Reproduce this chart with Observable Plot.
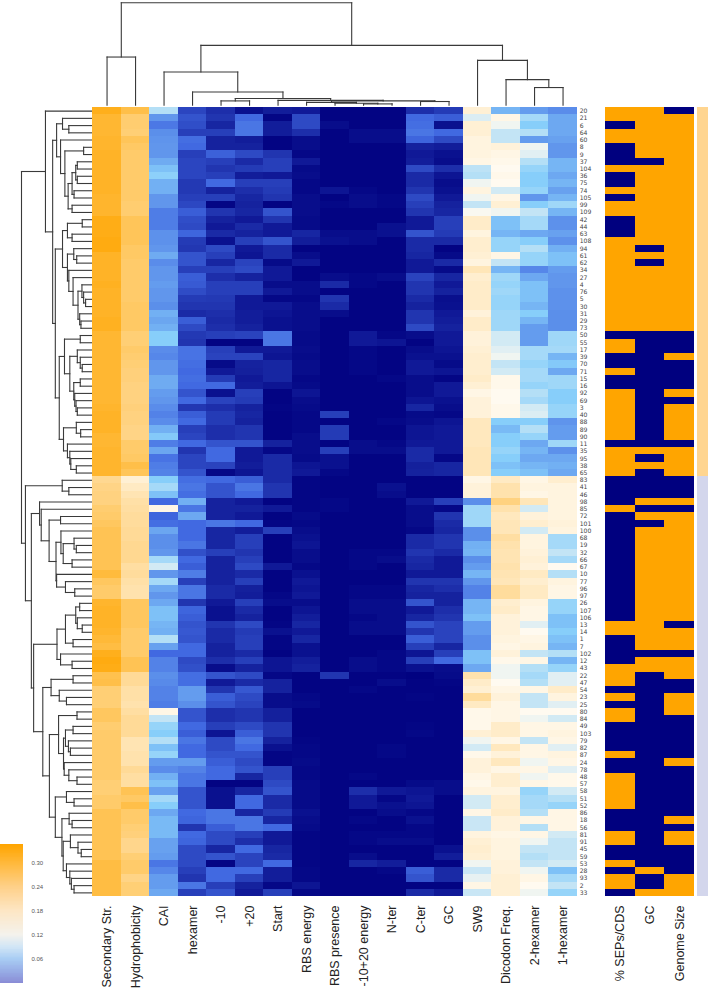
<!DOCTYPE html>
<html><head><meta charset="utf-8">
<script src="https://cdn.jsdelivr.net/npm/d3@7"></script>
<script src="https://cdn.jsdelivr.net/npm/@observablehq/plot@0.6"></script>
<style>
html,body{margin:0;padding:0;background:#fff;overflow:hidden}
#chart{position:relative;width:709px;height:990px;font-family:"Liberation Sans",Arial,sans-serif}
#chart svg{position:absolute;left:0;top:0;background:transparent;max-width:none}
</style></head><body><div id="chart"></div>
<script>
const rowLabels=[20,21,6,64,60,8,9,37,104,36,75,74,105,99,109,42,44,63,108,94,61,62,34,27,4,76,5,30,31,29,73,50,55,17,39,70,71,15,16,92,69,3,40,88,89,90,11,35,95,38,65,83,41,46,98,85,72,101,100,68,19,32,66,67,10,77,96,97,26,107,106,13,14,1,7,102,12,43,22,47,54,23,25,80,84,49,103,79,82,87,24,78,48,57,58,51,52,86,18,56,81,91,45,59,53,28,93,2,33].map(String);
const columns=["Secondary Str.","Hydrophobicity","CAI","hexamer","-10","+20","Start","RBS energy","RBS presence","-10+20 energy","N-ter","C-ter","GC","SW9","Dicodon Freq.","2-hexamer","1-hexamer"];
const annotationColumns=["% SEPs/CDS","GC ","Genome Size"];

const secondaryStr=[.32,.30,.30,.30,.305,.305,.31,.31,.31,.31,.31,.31,.305,.305,.305,.325,.325,.325,.33,.33,.31,.31,.31,.31,.315,.31,.31,.31,.31,.315,.315,.30,.30,.30,.30,.30,.30,.30,.30,.30,.30,.305,.31,.31,.31,.30,.30,.305,.305,.305,.305,.215,.225,.23,.23,.245,.25,.26,.27,.27,.27,.27,.27,.27,.29,.26,.25,.25,.305,.31,.31,.31,.305,.295,.285,.32,.33,.325,.275,.28,.24,.24,.24,.26,.26,.245,.25,.25,.25,.25,.25,.25,.25,.24,.24,.25,.25,.27,.27,.27,.27,.27,.27,.27,.285,.285,.285,.285,.285];
const hydrophobicity=[.28,.245,.245,.24,.265,.255,.25,.25,.25,.25,.25,.25,.25,.245,.245,.265,.265,.265,.265,.255,.255,.25,.25,.25,.25,.25,.25,.255,.255,.255,.255,.24,.24,.25,.245,.24,.235,.235,.23,.23,.23,.235,.23,.23,.225,.225,.25,.25,.255,.28,.265,.155,.17,.185,.195,.2,.205,.205,.21,.21,.215,.215,.215,.2,.205,.195,.19,.19,.26,.26,.26,.26,.25,.25,.25,.25,.27,.27,.21,.21,.195,.195,.19,.2,.21,.21,.21,.185,.185,.19,.19,.21,.2,.2,.27,.255,.28,.25,.25,.24,.235,.22,.22,.24,.25,.25,.225,.24,.24];
const cai=[.105,.068,.056,.065,.067,.068,.068,.076,.085,.092,.078,.078,.068,.068,.058,.058,.058,.066,.066,.068,.076,.064,.068,.068,.07,.068,.068,.065,.078,.074,.078,.09,.09,.064,.062,.068,.068,.076,.076,.07,.068,.064,.06,.064,.078,.088,.058,.074,.054,.058,.06,.09,.1,.085,.05,.14,.048,.052,.074,.065,.065,.068,.1,.115,.068,.1,.075,.068,.075,.085,.085,.08,.078,.105,.072,.05,.06,.06,.065,.063,.06,.06,.058,.14,.11,.095,.09,.105,.085,.095,.07,.064,.078,.085,.072,.1,.09,.075,.082,.082,.082,.072,.072,.07,.055,.062,.07,.07,.075];
const hexamer=[.033,.04,.037,.03,.052,.05,.03,.033,.033,.033,.027,.027,.03,.034,.045,.037,.035,.048,.028,.026,.04,.04,.03,.045,.043,.036,.028,.025,.02,.045,.035,.027,.025,.054,.054,.052,.05,.052,.05,.04,.05,.026,.045,.05,.03,.033,.05,.025,.033,.033,.04,.052,.055,.052,.078,.055,.075,.05,.05,.05,.055,.038,.05,.045,.058,.03,.055,.055,.025,.048,.045,.04,.042,.04,.05,.05,.035,.038,.052,.052,.07,.07,.065,.04,.04,.05,.045,.055,.05,.05,.07,.06,.055,.055,.04,.04,.04,.05,.048,.025,.05,.048,.035,.035,.035,.03,.025,.055,.03];
const minus10=[.022,.025,.018,.03,.016,.016,.046,.03,.025,.03,.05,.016,.03,.003,.025,.016,.012,.02,.008,.035,.03,.018,.03,.022,.03,.03,.027,.025,.022,.02,.022,.03,.002,.03,.032,.005,.012,.028,.05,.008,.032,.022,.028,.028,.022,.022,.04,.05,.05,.032,.004,.05,.04,.04,.016,.016,.016,.055,.018,.018,.018,.03,.016,.016,.016,.016,.02,.02,.012,.008,.008,.025,.02,.02,.016,.016,.022,.006,.04,.012,.025,.045,.04,.022,.022,.03,.01,.035,.035,.04,.045,.05,.05,.002,.008,.008,.008,.055,.055,.045,.035,.035,.018,.04,.003,.05,.05,.03,.04];
const plus20=[.008,.05,.055,.055,.014,.016,.035,.02,.028,.014,.03,.022,.018,.016,.018,.012,.02,.016,.03,.012,.01,.032,.035,.016,.03,.03,.012,.012,.014,.014,.016,.032,.002,.012,.032,.016,.015,.012,.014,.03,.028,.016,.018,.016,.025,.025,.04,.012,.012,.014,.01,.045,.055,.05,.012,.016,.012,.05,.014,.03,.03,.025,.03,.035,.02,.03,.015,.014,.03,.02,.016,.035,.028,.03,.03,.02,.03,.016,.035,.02,.042,.035,.032,.025,.025,.035,.045,.055,.05,.04,.035,.04,.018,.002,.018,.05,.05,.018,.055,.055,.03,.022,.05,.032,.032,.05,.03,.016,.012];
const start=[.014,.003,.014,.014,.002,.002,.025,.03,.03,.012,.03,.028,.025,.002,.04,.025,.012,.012,.04,.02,.02,.005,.012,.012,.006,.012,.004,.012,.01,.008,.008,.055,.055,.012,.01,.018,.018,.018,.01,.002,.002,.003,.002,.002,.002,.002,.016,.004,.02,.02,.02,.02,.025,.025,.002,.012,.002,.003,.03,.002,.002,.002,.002,.012,.002,.002,.002,.004,.006,.002,.002,.003,.008,.003,.003,.002,.01,.01,.004,.016,.016,.006,.006,.015,.015,.025,.025,.016,.008,.003,.003,.03,.03,.035,.04,.02,.02,.028,.018,.05,.012,.012,.018,.02,.05,.014,.014,.004,.03];
const rbsEnergy=[.012,.035,.035,.022,.006,.006,.004,.012,.005,.006,.004,.004,.006,.006,.006,.005,.005,.018,.014,.002,.006,.012,.002,.002,.006,.006,.004,.006,.006,.006,.006,.005,.005,.006,.005,.006,.006,.004,.005,.01,.006,.005,.004,.004,.004,.006,.006,.006,.005,.01,.012,.003,.003,.003,.003,.003,.005,.004,.006,.008,.01,.006,.006,.004,.008,.012,.01,.012,.006,.01,.014,.018,.012,.018,.008,.008,.014,.016,.002,.002,.002,.004,.005,.002,.002,.002,.002,.003,.004,.004,.005,.004,.004,.005,.005,.005,.005,.008,.006,.005,.003,.003,.003,.003,.003,.004,.004,.01,.004];
const rbsPresence=[.002,.002,.006,.002,.002,.002,.002,.002,.002,.002,.002,.01,.002,.004,.002,.002,.002,.006,.008,.002,.002,.002,.002,.006,.02,.002,.025,.02,.006,.002,.002,.002,.002,.002,.002,.002,.002,.002,.002,.002,.002,.002,.03,.002,.028,.028,.002,.03,.008,.008,.004,.002,.002,.002,.004,.004,.002,.002,.002,.002,.002,.002,.002,.002,.002,.002,.002,.002,.002,.002,.002,.002,.002,.002,.002,.002,.002,.002,.025,.002,.002,.002,.002,.002,.002,.002,.002,.002,.002,.002,.002,.002,.002,.002,.002,.002,.002,.002,.002,.002,.002,.002,.002,.002,.002,.002,.002,.002,.002];
const energy1020=[.002,.002,.002,.006,.006,.002,.002,.002,.002,.002,.002,.004,.006,.006,.002,.002,.002,.006,.006,.002,.002,.002,.002,.004,.004,.002,.002,.002,.002,.002,.002,.012,.012,.004,.004,.004,.004,.002,.002,.002,.002,.002,.002,.002,.002,.002,.006,.006,.002,.002,.002,.002,.002,.002,.002,.002,.002,.002,.002,.002,.002,.004,.004,.004,.002,.002,.004,.004,.006,.006,.004,.006,.006,.002,.002,.002,.006,.006,.002,.002,.004,.002,.002,.002,.002,.002,.002,.002,.002,.002,.002,.002,.004,.002,.022,.012,.012,.002,.004,.002,.004,.004,.002,.006,.018,.002,.002,.002,.002];
const nTer=[.002,.002,.002,.006,.006,.002,.002,.002,.002,.002,.002,.002,.004,.004,.002,.002,.008,.008,.002,.002,.002,.002,.002,.006,.002,.002,.002,.002,.002,.002,.002,.004,.01,.002,.002,.002,.002,.004,.002,.002,.002,.002,.002,.004,.002,.002,.004,.006,.002,.002,.002,.002,.008,.006,.002,.002,.002,.002,.002,.002,.002,.004,.006,.002,.002,.002,.004,.004,.006,.006,.006,.006,.006,.002,.002,.004,.004,.004,.002,.006,.002,.002,.002,.002,.002,.002,.002,.002,.004,.004,.002,.002,.002,.002,.012,.004,.008,.006,.002,.002,.004,.006,.002,.002,.014,.004,.002,.002,.002];
const cTer=[.022,.05,.052,.055,.048,.016,.012,.014,.035,.02,.02,.025,.035,.03,.025,.012,.012,.04,.02,.02,.018,.012,.012,.032,.025,.025,.02,.016,.025,.025,.035,.006,.002,.006,.008,.012,.012,.006,.006,.006,.01,.018,.005,.006,.01,.01,.012,.02,.02,.015,.016,.002,.002,.002,.012,.006,.006,.006,.004,.02,.02,.025,.02,.018,.012,.025,.018,.016,.04,.012,.018,.04,.025,.045,.03,.01,.03,.008,.001,.002,.002,.003,.002,.002,.002,.003,.004,.002,.002,.002,.002,.002,.002,.005,.01,.012,.01,.004,.008,.004,.004,.006,.002,.002,.002,.045,.04,.002,.02];
const gc=[.028,.045,.008,.05,.035,.014,.008,.006,.022,.01,.006,.008,.012,.016,.018,.03,.03,.028,.02,.002,.005,.02,.005,.018,.012,.016,.007,.008,.012,.014,.016,.012,.012,.01,.008,.005,.01,.003,.012,.012,.008,.006,.004,.01,.012,.012,.012,.012,.004,.018,.018,.002,.002,.002,.03,.004,.025,.02,.018,.025,.025,.02,.012,.012,.012,.025,.022,.016,.016,.022,.025,.032,.032,.032,.018,.03,.05,.006,.005,.003,.002,.002,.002,.002,.002,.002,.002,.002,.002,.002,.002,.002,.002,.006,.006,.002,.002,.002,.002,.002,.002,.002,.008,.014,.002,.02,.02,.002,.012];
const sw9=[.155,.118,.155,.155,.145,.145,.145,.14,.108,.105,.125,.145,.125,.11,.128,.165,.165,.145,.16,.16,.155,.145,.18,.16,.165,.165,.165,.165,.15,.165,.165,.15,.15,.155,.16,.16,.16,.165,.155,.14,.15,.15,.15,.175,.175,.175,.175,.18,.18,.18,.18,.14,.15,.15,.065,.098,.098,.098,.065,.065,.078,.08,.065,.07,.08,.068,.06,.06,.08,.08,.085,.07,.07,.065,.065,.085,.085,.075,.19,.165,.155,.205,.17,.135,.135,.135,.155,.125,.115,.135,.15,.15,.14,.135,.145,.115,.115,.14,.112,.112,.145,.155,.16,.155,.125,.112,.122,.14,.112];
const dicodon=[.08,.14,.125,.11,.11,.15,.14,.135,.13,.135,.13,.115,.14,.155,.125,.085,.085,.08,.095,.095,.14,.11,.08,.098,.095,.098,.095,.095,.098,.098,.098,.115,.115,.12,.125,.11,.115,.135,.135,.13,.13,.135,.135,.09,.082,.09,.09,.095,.09,.085,.09,.17,.19,.19,.23,.19,.175,.18,.18,.2,.19,.185,.185,.19,.185,.18,.205,.205,.16,.165,.15,.15,.15,.145,.14,.15,.135,.125,.125,.13,.14,.15,.14,.14,.14,.165,.165,.14,.175,.15,.175,.14,.16,.16,.145,.16,.16,.165,.15,.15,.14,.145,.145,.145,.15,.15,.155,.155,.155];
const twoHexamer=[.07,.1,.09,.105,.07,.125,.12,.105,.095,.09,.09,.095,.068,.09,.11,.1,.1,.075,.09,.105,.095,.095,.062,.075,.085,.085,.085,.08,.09,.08,.07,.07,.07,.1,.1,.095,.1,.1,.095,.105,.1,.115,.118,.09,.105,.095,.075,.08,.075,.08,.085,.14,.145,.14,.18,.115,.15,.16,.115,.145,.145,.15,.155,.15,.17,.16,.17,.17,.145,.14,.14,.12,.13,.14,.145,.11,.14,.105,.1,.105,.14,.11,.11,.13,.125,.14,.14,.11,.14,.14,.125,.14,.125,.14,.095,.1,.1,.105,.14,.105,.14,.125,.11,.105,.11,.125,.14,.13,.125];
const oneHexamer=[.064,.075,.075,.075,.072,.068,.068,.08,.08,.075,.08,.072,.08,.098,.08,.066,.066,.072,.066,.078,.085,.085,.07,.068,.068,.066,.066,.066,.065,.065,.065,.098,.098,.1,.08,.088,.075,.098,.098,.09,.09,.095,.095,.067,.07,.07,.098,.066,.075,.078,.075,.16,.145,.145,.145,.145,.145,.15,.145,.1,.1,.11,.1,.13,.105,.145,.14,.14,.095,.095,.085,.085,.09,.085,.08,.105,.08,.095,.12,.12,.165,.145,.12,.13,.115,.14,.145,.14,.12,.145,.14,.12,.135,.135,.115,.105,.095,.14,.14,.14,.115,.11,.11,.11,.115,.085,.1,.11,.095];
const valueColumns=[secondaryStr,hydrophobicity,cai,hexamer,minus10,plus20,start,rbsEnergy,rbsPresence,energy1020,nTer,cTer,gc,sw9,dicodon,twoHexamer,oneHexamer];

const sepsNavyRows=[2,5,6,7,9,10,12,15,16,17,31,34,35,37,38,46,51,52,53,54,56,57,58,59,60,61,62,63,64,65,66,67,68,69,70,73,74,75,76,80,82,85,86,87,88,90,91,97,98,99,102,103,105,108];
const gcNavyRows=[7,19,21,31,32,33,34,35,36,37,38,39,40,41,42,43,44,45,46,48,50,51,52,53,55,57,75,78,79,80,81,82,83,84,85,86,87,88,89,90,91,92,93,94,95,96,97,98,99,100,101,102,103,104,106,107];
const genomeNavyRows=[0,31,32,33,35,36,37,38,40,46,51,52,53,55,71,75,79,80,84,85,86,87,88,89,91,92,93,94,95,96,97,99,102,103,104,105];
const annotationRows=[sepsNavyRows,gcNavyRows,genomeNavyRows];
const groupSplit=51;
const groups=["upper","lower"];

const L=0;
const rowTree=[71.3,
 [47,L,[39.7,
  [35.7,[29.7,L,[23.3,L,L]],[31.7,L,[27.3,[8.3,L,L],[24,[20,[16.3,[14.7,L,L],[14.7,L,L]],[18,L,L]],[20,L,L]]]]],
  [37,
   [29.7,[24.7,[9.7,L,L],[20,L,L]],[24.7,[18.3,L,[15.3,L,L]],[23.3,L,[19,L,[14,[10,L,[8.3,L,[6.3,L,L]]],[12.3,L,[11,L,L]]]]]]],
   [33,[27.7,[11.7,L,L],[22.3,[14.7,L,[11.7,L,[9.7,L,L]]],[18.3,[11.7,L,L],[17.3,L,[16,L,[14.7,L,L]]]]]],[28.7,[15.7,L,[11.3,L,L]],[24.7,L,[22.3,L,[21.3,L,[15.7,L,L]]]]]]
  ]]],
 [67.3,[30,L,[23.3,L,L]],
  [61.3,
   [53,L,[51.3,L,[43.3,[31.7,L,L],[36.3,[31.3,L,[29,[18,L,[15.7,L,L]],[20,L,L]]],[35.7,L,[26.7,L,[17.3,L,L]]]]]]],
   [59,[35.3,[26.7,[16.3,[12.3,L,L],[14.7,L,[9.7,L,L]]],[19,L,L]],[31.7,L,[20,L,L]]],
    [49.7,[41.3,[19,L,L],[33,L,[25.7,L,L]]],
     [43,[33.7,[15,L,L],[28.7,[26.7,[19,L,L],[23.7,L,[21.7,L,L]]],[28,L,[23.3,L,[15,L,L]]]]],
      [37,[25.7,L,[18,L,L]],[30.3,[23,L,[20,L,L]],[29,[21.7,L,[14,L,[10.7,L,L]]],[25.7,L,[22.3,L,[20.7,L,[18,L,L]]]]]]]]]]]]];
const colTree=[102.7,[48.3,L,L],[60,[33.3,L,[13.3,L,[6.7,[4.3,L,L],[4.8,L,[4.3,[2.8,L,[2,L,[1.3,L,L]]],[3.7,L,L]]]]]],[45,L,[25.7,L,[17.7,L,L]]]]];

const legendTicks=[.06,.12,.18,.24,.30];
const legendDomain=[0,.03,.06,.09,.12,.18,.24,.30,.345];
const legendRange=["#8a8dd6","#98aee6","#a9cdf4","#d2e6f6","#f4f2ec","#fde6c4","#fed088","#ffb83a","#ffa500"];
const heatDomain=[0,.05,.09,.13,.345];
const heatRange=["#00007f","#4169e1","#87cefa","#fffaf0","#ffa500"];
const anchorColors=["#ffa500","#00007f"];
const groupColors=["#ffd590","#d3d6ec"];

const W=709,H=990,top0=107,bottom0=896;
const frame={width:W,height:H,marginTop:top0,marginBottom:H-bottom0,style:{background:"transparent",fontFamily:"'Liberation Sans',Arial,sans-serif"}};

const tidy=columns.flatMap((c,j)=>rowLabels.map((r,i)=>({c,r,v:valueColumns[j][i]})));
const tidyAnno=annotationColumns.flatMap((c,j)=>{const s=new Set(annotationRows[j]);return rowLabels.map((r,i)=>({c,r,v:s.has(i)?"yes":"no"}));});
const tidyGroup=rowLabels.map((r,i)=>({g:"group",r,v:i<groupSplit?groups[0]:groups[1]}));

function layout(node,segs,st){
  if(node===L) return {p:st.i++ +.5,h:0};
  const a=layout(node[1],segs,st),b=layout(node[2],segs,st),h=node[0];
  segs.push({h1:h,p1:a.p,h2:h,p2:b.p},{h1:a.h,p1:a.p,h2:h,p2:a.p},{h1:b.h,p1:b.p,h2:h,p2:b.p});
  return {p:(a.p+b.p)/2,h};
}
const rowSegs=[],colSegs=[];
layout(rowTree,rowSegs,{i:0});layout(colTree,colSegs,{i:0});

const main=Plot.plot({...frame,marginLeft:92.3,marginRight:W-576.8,
  x:{type:"band",domain:columns,padding:0,round:false,axis:null},
  y:{type:"band",domain:rowLabels,padding:0,round:false,axis:null},
  color:{type:"linear",domain:heatDomain,range:heatRange,interpolate:"rgb"},
  marks:[
   Plot.cell(tidy,{x:"c",y:"r",fill:"v",shapeRendering:"crispEdges"}),
   Plot.axisY({anchor:"right",tickSize:0,tickPadding:2.4,fontSize:6.1,fontFamily:"'DejaVu Sans',sans-serif",label:null,color:"#444"}),
   Plot.axisX({anchor:"bottom",tickRotate:-90,tickSize:0,tickPadding:9,fontSize:12.5,label:null,color:"#222"})
  ]});
const anno=Plot.plot({...frame,marginLeft:604.7,marginRight:W-694.3,
  x:{type:"band",domain:annotationColumns,padding:0,round:false,axis:null},
  y:{type:"band",domain:rowLabels,padding:0,round:false,axis:null},
  color:{type:"ordinal",domain:["no","yes"],range:anchorColors},
  marks:[
   Plot.cell(tidyAnno,{x:"c",y:"r",fill:"v",shapeRendering:"crispEdges"}),
   Plot.axisX({anchor:"bottom",tickRotate:-90,tickSize:0,tickPadding:9,fontSize:12.5,label:null,color:"#222",tickFormat:d=>d.trim()})
  ]});
const strip=Plot.plot({...frame,marginLeft:697.3,marginRight:W-708.4,
  x:{type:"band",domain:["group"],padding:0,round:false,axis:null},
  y:{type:"band",domain:rowLabels,padding:0,round:false,axis:null},
  color:{type:"ordinal",domain:groups,range:groupColors},
  marks:[Plot.cell(tidyGroup,{x:"g",y:"r",fill:"v",shapeRendering:"crispEdges"})]});
const rowDendro=Plot.plot({...frame,marginLeft:0,marginRight:0,
  x:{type:"linear",domain:[0,71.3],range:[91.3,21],axis:null},
  y:{type:"linear",domain:[0,rowLabels.length],range:[top0,bottom0],axis:null},
  marks:[Plot.link(rowSegs,{x1:"h1",y1:"p1",x2:"h2",y2:"p2",stroke:"#3a3a3a",strokeWidth:1.1,strokeLinecap:"square"})]});
const colDendro=Plot.plot({...frame,marginTop:0,marginBottom:0,marginLeft:92.3,marginRight:W-576.8,
  x:{type:"linear",domain:[0,columns.length],axis:null},
  y:{type:"linear",domain:[0,102.7],range:[104.7,2.3],axis:null},
  marks:[Plot.link(colSegs,{x1:"p1",y1:"h1",x2:"p2",y2:"h2",stroke:"#3a3a3a",strokeWidth:1.1,strokeLinecap:"square"})]});
const legendSteps=d3.range(0,.345,.002);
const legend=Plot.plot({...frame,marginTop:0,marginBottom:0,marginLeft:0,marginRight:W-23,
  x:{type:"linear",domain:[0,1],axis:null},
  y:{type:"linear",domain:[0,.345],range:[983,845],axis:null},
  color:{type:"linear",domain:legendDomain,range:legendRange,interpolate:"rgb"},
  marks:[
   Plot.rect(legendSteps,{x1:()=>0,x2:()=>1,y1:d=>d,y2:d=>d+.0025,fill:d=>d,shapeRendering:"crispEdges"}),
   Plot.axisY(legendTicks,{anchor:"right",tickSize:0,tickPadding:8,fontSize:6,label:null,color:"#555",tickFormat:d3.format(".2f")})
  ]});
const root=document.getElementById("chart");
for(const p of [rowDendro,colDendro,main,anno,strip,legend]) root.appendChild(p);
for(const p of [main,anno,strip]) p.querySelectorAll('g[aria-label="cell"]').forEach(g=>g.style.filter="blur(.45px)");
for(const a of valueColumns) if(a.length!==109) console.error("len",a.length);
</script></body></html>
